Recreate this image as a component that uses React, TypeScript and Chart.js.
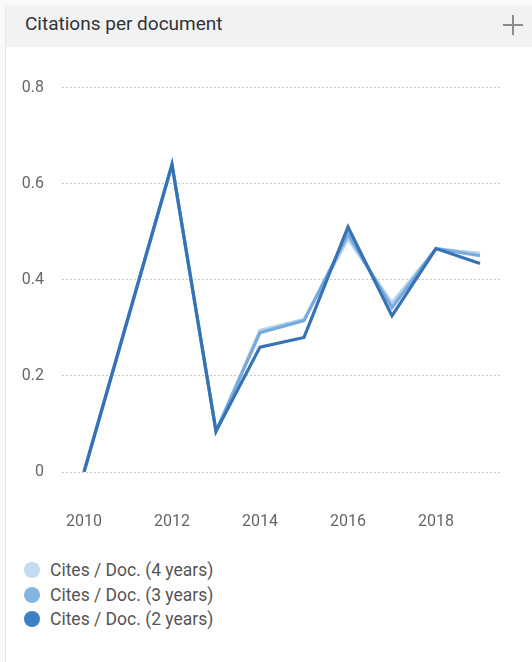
import React, { useEffect, useRef } from "react";
import { Chart, registerables } from "chart.js";

Chart.register(...registerables);

const years = ["2010", "2011", "2012", "2013", "2014", "2015", "2016", "2017", "2018", "2019"];
const cites4 = [0, 0.32, 0.64, 0.085, 0.295, 0.318, 0.485, 0.352, 0.465, 0.455];
const cites3 = [0, 0.32, 0.64, 0.085, 0.29, 0.315, 0.495, 0.342, 0.465, 0.45];
const cites2 = [0, 0.32, 0.64, 0.085, 0.26, 0.28, 0.51, 0.325, 0.465, 0.434];
const yTicks = [0, 0.2, 0.4, 0.6, 0.8];
const legendLabels = ["Cites / Doc. (4 years)", "Cites / Doc. (3 years)", "Cites / Doc. (2 years)"];
const legendColors = ["#c3dbf3", "#84b5e1", "#3d80c6"];
const lineColors = ["#b9d4ef", "#78abdc", "#3772b4"];

const FONT = "Roboto, 'Noto Sans', sans-serif";

export default function App() {
  const ref = useRef<HTMLCanvasElement | null>(null);

  useEffect(() => {
    document.body.style.margin = "0";
    const canvas = ref.current;
    if (!canvas) return;
    const chart = new Chart(canvas, {
      type: "line",
      data: {
        labels: years,
        datasets: [
          { label: legendLabels[2], data: cites2, borderColor: lineColors[2], backgroundColor: lineColors[2], borderWidth: 3.2, pointRadius: 0, tension: 0 },
          { label: legendLabels[1], data: cites3, borderColor: lineColors[1], backgroundColor: lineColors[1], borderWidth: 3.2, pointRadius: 0, tension: 0 },
          { label: legendLabels[0], data: cites4, borderColor: lineColors[0], backgroundColor: lineColors[0], borderWidth: 3.2, pointRadius: 0, tension: 0 },
        ],
      },
      options: {
        animation: false,
        responsive: false,
        maintainAspectRatio: false,
        layout: { padding: { top: 27, right: 30, bottom: 0, left: 0 } },
        plugins: { legend: { display: false }, tooltip: { enabled: false } },
        scales: {
          x: {
            offset: true,
            grid: { display: false, drawTicks: false },
            border: { display: false },
            ticks: {
              autoSkip: false,
              maxRotation: 0,
              padding: 40,
              color: "#666",
              font: { family: FONT, size: 16 },
              callback: (_v: any, i: number) => (i % 2 === 0 ? years[i] : ""),
            },
            afterFit: (s: any) => { s.height = 68; },
          },
          y: {
            min: 0,
            max: 0.8,
            afterBuildTicks: (s: any) => { s.ticks = yTicks.map((v) => ({ value: v })); },
            grid: { color: "#c8c8c8", lineWidth: 1, drawTicks: false },
            border: { display: false, dash: [2, 2] },
            ticks: {
              padding: 18,
              color: "#666",
              font: { family: FONT, size: 16 },
              callback: (v: any) => String(Math.round(v * 10) / 10),
            },
            afterFit: (s: any) => { s.width = 62; },
          },
        },
      },
    });
    return () => chart.destroy();
  }, []);

  return (
    <div style={{ position: "relative", width: 532, height: 662, background: "#fafafa", overflow: "hidden", fontFamily: FONT }}>
      <div style={{ position: "absolute", left: 5, top: 5, right: 0, bottom: 0, background: "#fff", borderLeft: "1px solid #e6e6e6" }} />
      <div style={{ position: "absolute", left: 6, top: 5, right: 0, height: 42, background: "#f1f2f4" }} />
      <div style={{ position: "absolute", left: 25, top: 12, fontSize: 19, color: "#333", lineHeight: "23px" }}>Citations per document</div>
      <div style={{ position: "absolute", left: 503, top: 24, width: 20, height: 1.5, background: "#8c8c8c" }} />
      <div style={{ position: "absolute", left: 512, top: 15, width: 1.5, height: 20, background: "#8c8c8c" }} />
      <canvas ref={ref} width={532} height={480} style={{ position: "absolute", left: 0, top: 60, width: 532, height: 480 }} />
      {legendLabels.map((lab, i) => (
        <div key={lab} style={{ position: "absolute", left: 24, top: 559 + i * 24.5, height: 22, display: "flex", alignItems: "center" }}>
          <div style={{ width: 16, height: 16, borderRadius: 8, background: legendColors[i], marginRight: 10 }} />
          <span style={{ fontSize: 17.5, color: "#555" }}>{lab}</span>
        </div>
      ))}
    </div>
  );
}
